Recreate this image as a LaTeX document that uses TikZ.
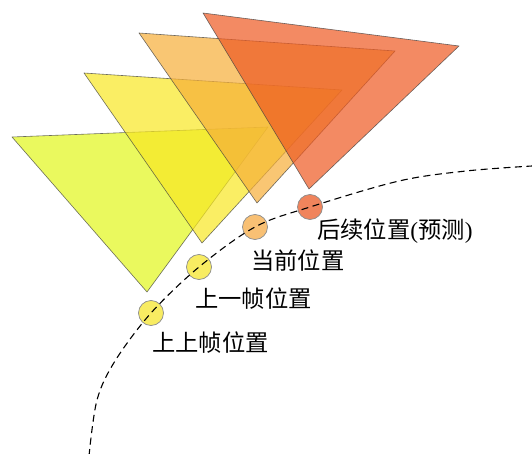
\documentclass[tikz,border=0pt]{standalone}
\usepackage{fontspec}
\setmainfont{Liberation Serif}
\newfontfamily\cjk{Noto Sans CJK SC}
\definecolor{cA}{RGB}{225,246,26}
\definecolor{cB}{RGB}{248,231,34}
\definecolor{cC}{RGB}{246,174,56}
\definecolor{cD}{RGB}{238,88,33}
\definecolor{dA}{RGB}{248,236,98}
\definecolor{dC}{RGB}{248,192,116}
\definecolor{dD}{RGB}{240,132,92}
\tikzset{
  tri/.style={fill opacity=0.7, draw opacity=0.75, draw=black!75, line width=0.6pt, line join=round},
  posdot/.style={circle, draw=black!45, line width=0.7pt, minimum size=25pt, inner sep=0pt},
  lab/.style={anchor=west, inner sep=0pt, font=\fontsize{23.3}{26}\selectfont},
  track/.style={dash pattern=on 7pt off 4.5pt, line width=1.1pt, black}
}
\begin{document}
\begin{tikzpicture}[x=1pt,y=-1pt]
\useasboundingbox (0,0) rectangle (532,454);
% triangles
\filldraw[tri, fill=cA] (12,137) -- (268,127) -- (147,292) -- cycle;
\filldraw[tri, fill=cB] (84,73) -- (342,90) -- (202,243) -- cycle;
\filldraw[tri, fill=cC] (139,33) -- (395,51) -- (257,203) -- cycle;
\filldraw[tri, fill=cD] (203,13) -- (459,46) -- (309,189) -- cycle;
% positions
\node[posdot, fill=dA] (c1) at (151,313) {};
\node[posdot, fill=dA] (c2) at (199,267) {};
\node[posdot, fill=dC] (c3) at (255,227) {};
\node[posdot, fill=dD] (c4) at (310,207) {};
% track
\coordinate (s) at (89,456);
\coordinate (e) at (532,166);
\draw[track] plot[smooth, tension=0.55] coordinates {(s) (97,400) (115,361) (c1.center) (c2.center) (c3.center) (c4.center) (399,181) (466,171) (e)};
% labels
\node[lab] (l4) at (317,231) {{\cjk 后续位置}({\cjk 预测})};
\node[lab] (l3) at (251,261) {\cjk 当前位置};
\node[lab] (l2) at (195,299) {\cjk 上一帧位置};
\node[lab] (l1) at (152,343) {\cjk 上上帧位置};
\end{tikzpicture}
\end{document}
